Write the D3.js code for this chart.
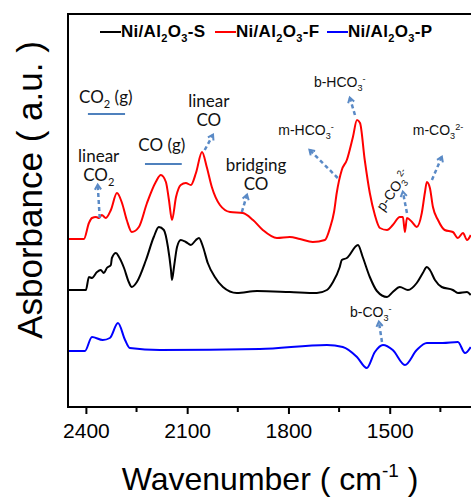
<!DOCTYPE html>
<html>
<head>
<meta charset="utf-8">
<script src="https://cdn.jsdelivr.net/npm/d3@7"></script>
<style>
  body { margin: 0; background: #fff; }
  svg { display: block; }
</style>
</head>
<body>
<svg id="chart" width="471" height="500"></svg>
<script>
// ---- data (wavenumber in cm-1, absorbance in a.u.) ----
const seriesNames  = ["Ni/Al2O3-S", "Ni/Al2O3-F", "Ni/Al2O3-P"];
const seriesOffset = [1.16, 1.67, 0.56];   // vertical stacking of the spectra

const wnS  = [2450,2400,2391,2382,2367,2356,2347,2338,2326,2323,2311,2302,2287,2273,2264,2249,2222,2199,2184,2169,2157,2148,2145,2139,2130,2119,2104,2089,2074,2065,2053,2039,2018,1994,1953,1893,1796,1716,1686,1668,1648,1642,1627,1594,1580,1559,1538,1508,1491,1470,1446,1420,1402,1390,1381,1366,1346,1313,1298,1271,1260];
const absS = [0.01,0.01,0.14,0.13,0.19,0.21,0.18,0.23,0.26,0.33,0.38,0.34,0.23,0.09,0.04,0.09,0.31,0.54,0.64,0.61,0.44,0.21,0.11,0.24,0.44,0.51,0.49,0.46,0.51,0.53,0.44,0.28,0.14,0.04,-0.02,0.00,-0.01,-0.02,0.01,0.09,0.24,0.31,0.33,0.46,0.34,0.14,0.00,-0.06,-0.01,0.04,0.01,0.08,0.18,0.24,0.21,0.11,0.04,0.01,-0.02,-0.01,-0.04];

const wnF  = [2450,2406,2391,2382,2370,2361,2353,2341,2326,2308,2293,2279,2264,2243,2219,2193,2178,2163,2154,2145,2133,2119,2104,2089,2074,2056,2042,2027,2003,1973,1935,1905,1876,1834,1796,1766,1728,1692,1677,1665,1657,1642,1627,1609,1597,1588,1574,1559,1544,1529,1508,1491,1470,1461,1455,1449,1434,1420,1405,1396,1390,1381,1372,1357,1337,1313,1298,1283,1271,1260];
const absF = [0.01,0.01,0.17,0.22,0.23,0.22,0.25,0.22,0.30,0.47,0.37,0.20,0.08,0.13,0.37,0.58,0.65,0.58,0.40,0.20,0.43,0.55,0.57,0.55,0.67,0.88,0.73,0.53,0.35,0.28,0.27,0.20,0.10,0.02,0.03,0.01,-0.02,0.00,0.12,0.28,0.47,0.70,0.80,1.03,1.20,1.17,0.80,0.47,0.25,0.12,0.10,0.15,0.23,0.23,0.08,0.22,0.18,0.13,0.27,0.47,0.58,0.52,0.33,0.20,0.10,0.08,0.02,0.07,0.00,0.05];

const wnP  = [2450,2403,2382,2350,2329,2305,2284,2270,2181,1885,1686,1639,1597,1568,1544,1520,1491,1455,1420,1390,1343,1298,1277,1260];
const absP = [0,0,0.14,0.11,0.13,0.28,0.11,0.03,0.01,0.02,0.06,0.04,-0.06,-0.17,-0.01,0.06,0.01,-0.14,0.01,0.08,0.08,0.09,-0.02,0.04];

const xTicks     = [2400, 2100, 1800, 1500];
const xMinorTick = [2250, 1950, 1650, 1350];

// band assignments: [label parts, wavenumber, absorbance]
const bandLabels = [
  [[["m-HCO"], ["3", "sub"], ["-", "sup"]], 1748, 2.72],
  [[["b-HCO"], ["3", "sub"], ["-", "sup"]], 1648, 3.20],
  [[["m-CO"], ["3", "sub"], ["2-", "sup"]], 1357, 2.72],
  [[["b-CO"], ["3", "sub"], ["-", "sup"]], 1556, 0.90]
];
// species labels: [lines of parts, wavenumber, absorbance of first baseline]
const speciesLabels = [
  [[[["CO"], ["2", "sub"], [" (g)"]]], 2341, 3.04],
  [[[["linear"]], [["CO"], ["2", "sub"]]], 2362, 2.45],
  [[[["CO (g)"]]], 2175, 2.56],
  [[[["linear"]], [["CO"]]], 2036, 3.00],
  [[[["bridging"]], [["CO"]]], 1896, 2.36]
];
// gas-phase bands: [from wn, to wn, absorbance level]
const gasBands = [[2394, 2284, 2.93], [2225, 2116, 2.43]];
// arrows: [tail wn, tail abs, head wn, head abs]
const arrows = [
  [2359, 1.89, 2365, 2.22],
  [2048, 2.57, 2024, 2.72],
  [1938, 1.95, 1923, 2.12],
  [1654, 2.29, 1737, 2.57],
  [1603, 2.92, 1618, 3.09],
  [1449, 1.94, 1461, 2.15],
  [1375, 2.27, 1346, 2.50],
  [1523, 0.65, 1532, 0.85]
];

const svg = d3.select("#chart");
const W = 471, H = 500;
const mLeft = 68, mTop = 14, mBottom = 407;

const x = d3.scaleLinear().domain([2453, 1200]).range([mLeft, 491]);
const y = d3.scaleLinear().domain([0, 3.93]).range([mBottom, mTop]);

const arial = "'Liberation Sans', Arial, sans-serif";
const calib = "Lato, 'Open Sans', sans-serif";
const annoBlue = "#5a8ac6";

// rich text with sub/superscripts, returns the baseline shift left at the end
function richText(sel, parts, size) {
  let shift = 0;
  parts.forEach(([t, mode]) => {
    const target = mode === "sub" ? 0.28 * size : mode === "sup" ? -0.38 * size : 0;
    const ts = sel.append("tspan").text(t);
    if (mode) ts.attr("font-size", size * 0.65);
    if (target - shift !== 0) ts.attr("dy", target - shift);
    shift = target;
  });
  return shift;
}

// ---- spectra ----
const line = d3.line()
  .x(d => x(d[0]))
  .y(d => y(d[1]))
  .curve(d3.curveMonotoneX);

const spectra = [
  { wn: wnS, ab: absS, color: "#000000" },
  { wn: wnF, ab: absF, color: "#ff0000" },
  { wn: wnP, ab: absP, color: "#0000ff" }
];

svg.append("defs").append("clipPath").attr("id", "plot")
  .append("rect").attr("x", mLeft).attr("y", mTop).attr("width", W - mLeft).attr("height", mBottom - mTop);

svg.append("g").attr("clip-path", "url(#plot)")
  .selectAll("path")
  .data(spectra)
  .join("path")
    .attr("fill", "none")
    .attr("stroke", d => d.color)
    .attr("stroke-width", 2)
    .attr("stroke-linejoin", "round")
    .attr("d", (d, i) => line(d.wn.map((w, k) => [w, d.ab[k] + seriesOffset[i]])));

// ---- frame and axis ----
svg.append("path")
  .attr("d", `M${x.range()[1]},${mTop}H${mLeft}V${mBottom}H${x.range()[1]}`)
  .attr("fill", "none").attr("stroke", "#000").attr("stroke-width", 2);

const xAxis = svg.append("g")
  .attr("transform", `translate(0,${mBottom})`)
  .call(d3.axisBottom(x).tickValues(xTicks).tickFormat(d3.format("d"))
    .tickSize(7).tickSizeOuter(0).tickPadding(9));
xAxis.select(".domain").remove();
xAxis.selectAll(".tick line").attr("stroke-width", 2);
xAxis.selectAll(".tick text")
  .attr("font-family", arial).attr("font-size", 21).attr("fill", "#000");

svg.append("g")
  .selectAll("line")
  .data(xMinorTick)
  .join("line")
    .attr("x1", d => x(d)).attr("x2", d => x(d))
    .attr("y1", mBottom).attr("y2", mBottom + 5)
    .attr("stroke", "#000").attr("stroke-width", 2);

// axis titles
const xt = svg.append("text")
  .attr("x", 270).attr("y", 490)
  .attr("text-anchor", "middle")
  .attr("font-family", arial).attr("font-size", 32);
xt.append("tspan").text("Wavenumber ( cm");
xt.append("tspan").text("-1").attr("font-size", 19).attr("dy", -13);
xt.append("tspan").text(" )").attr("dy", 13);

svg.append("text")
  .attr("transform", "translate(42,190) rotate(-90)")
  .attr("text-anchor", "middle")
  .attr("font-family", arial).attr("font-size", 35)
  .text("Asborbance ( a.u. )");

// ---- legend ----
const legendX = [100, 215, 327];
const legend = svg.append("g").selectAll("g")
  .data(seriesNames)
  .join("g")
    .attr("transform", (d, i) => `translate(${legendX[i]},32)`);
legend.append("line")
  .attr("x1", 0).attr("x2", 21)
  .attr("stroke", (d, i) => spectra[i].color)
  .attr("stroke-width", 2);
legend.append("text")
  .attr("x", 21).attr("y", 5)
  .attr("font-family", arial).attr("font-size", 17).attr("font-weight", "bold")
  .attr("letter-spacing", 0.3)
  .each(function(d) {
    const m = d.match(/^(Ni\/Al)2(O)3(-.)$/);
    richText(d3.select(this), [[m[1]], ["2", "sub"], [m[2]], ["3", "sub"], [m[3]]], 17);
  });

// ---- annotations ----
svg.append("defs").append("marker")
  .attr("id", "head")
  .attr("viewBox", "0 0 10 10")
  .attr("refX", 7).attr("refY", 5)
  .attr("markerWidth", 9).attr("markerHeight", 9)
  .attr("markerUnits", "userSpaceOnUse")
  .attr("orient", "auto")
  .append("path")
    .attr("d", "M2,1.5L7.5,5L2,8.5")
    .attr("fill", "none").attr("stroke", annoBlue).attr("stroke-width", 2.2);

svg.append("g").selectAll("line")
  .data(arrows)
  .join("line")
    .attr("x1", d => x(d[0])).attr("y1", d => y(d[1]))
    .attr("x2", d => x(d[2])).attr("y2", d => y(d[3]))
    .attr("stroke", annoBlue).attr("stroke-width", 2.5)
    .attr("stroke-dasharray", "4,3")
    .attr("marker-end", "url(#head)");

svg.append("g").selectAll("line")
  .data(gasBands)
  .join("line")
    .attr("x1", d => x(d[0])).attr("x2", d => x(d[1]))
    .attr("y1", d => y(d[2])).attr("y2", d => y(d[2]))
    .attr("stroke", "#4f81bd").attr("stroke-width", 2);

const labelSize = 17, lineGap = 19;
svg.append("g").selectAll("text")
  .data(speciesLabels)
  .join("text")
    .attr("y", d => y(d[2]))
    .attr("text-anchor", "middle")
    .attr("font-family", calib).attr("font-size", labelSize).attr("fill", "#111")
    .each(function(d) {
      const t = d3.select(this);
      let shift = 0;
      d[0].forEach((parts, li) => {
        const row = t.append("tspan").attr("x", x(d[1]));
        if (li > 0) row.attr("dy", lineGap - shift);
        shift = richText(row, parts, labelSize);
      });
    });

svg.append("g").selectAll("text")
  .data(bandLabels)
  .join("text")
    .attr("x", d => x(d[1])).attr("y", d => y(d[2]))
    .attr("text-anchor", "middle")
    .attr("font-family", arial).attr("font-size", 14).attr("fill", "#111")
    .each(function(d) { richText(d3.select(this), d[0], 14); });

// rotated p-CO3 label
const pc = svg.append("text")
  .attr("transform", `translate(${x(1491)},${y(2.17)}) rotate(-55)`)
  .attr("text-anchor", "middle").attr("dy", 5)
  .attr("font-family", arial).attr("font-size", 14).attr("fill", "#111");
richText(pc, [["p-CO"], ["3", "sub"], ["2-", "sup"]], 14);
</script>
</body>
</html>
